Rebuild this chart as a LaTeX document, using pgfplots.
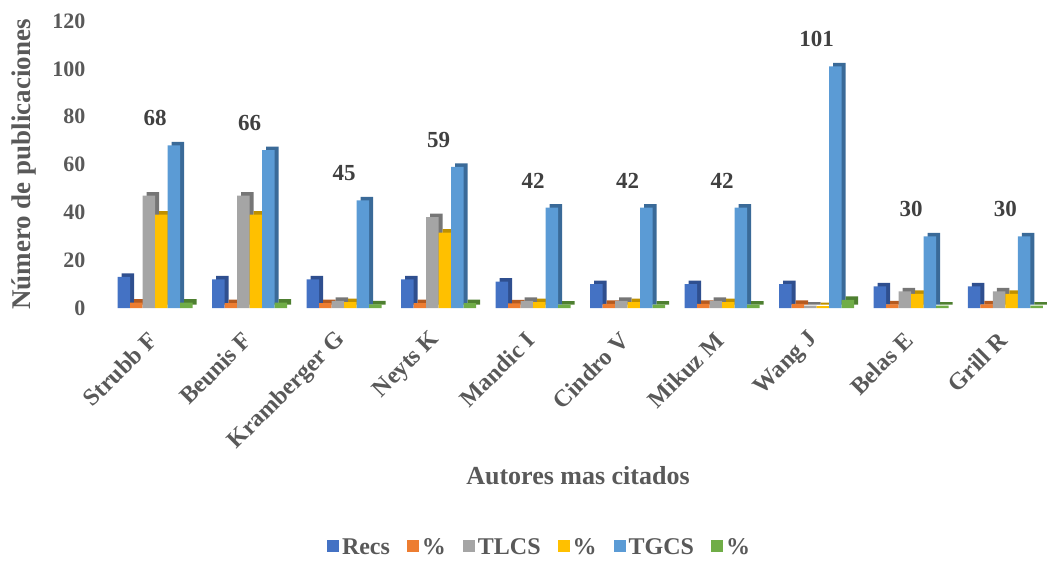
\documentclass[border=0pt]{standalone}
\usepackage{fontspec}
\setmainfont{Liberation Serif}
\usepackage{pgfplots}
\usepackage{pgfplotstable}
\pgfplotsset{compat=1.18}

\definecolor{cRecs}{HTML}{4472C4}
\definecolor{cPRecs}{HTML}{ED7D31}
\definecolor{cTLCS}{HTML}{A5A5A5}
\definecolor{cPTLCS}{HTML}{FFC000}
\definecolor{cTGCS}{HTML}{5B9BD5}
\definecolor{cPTGCS}{HTML}{70AD47}
\definecolor{dRecs}{HTML}{2F4F8F}
\definecolor{dPRecs}{HTML}{B55A1F}
\definecolor{dTLCS}{HTML}{767676}
\definecolor{dPTLCS}{HTML}{BF9000}
\definecolor{dTGCS}{HTML}{3A6A98}
\definecolor{dPTGCS}{HTML}{4E7F30}
\definecolor{txt}{HTML}{595959}
\definecolor{lbl}{HTML}{404040}

% autores: Strubb F, Beunis F, Kramberger G, Neyts K, Mandic I,
% Cindro V, Mikuz M, Wang J, Belas E, Grill R
\pgfplotstableread{
x recs precs tlcs ptlcs tgcs ptgcs
0 13 2.2 47 39.0 68 2.3
1 12 2.0 47 39.0 66 2.2
2 12 2.0 3 2.5 45 1.5
3 12 2.0 38 31.5 59 2.0
4 11 1.9 3 2.5 42 1.4
5 10 1.7 3 2.5 42 1.4
6 10 1.7 3 2.5 42 1.4
7 10 1.7 1 0.8 101 3.4
8 9 1.5 7 5.9 30 1.0
9 9 1.5 7 5.9 30 1.0
}\datatable

\begin{document}
\begin{tikzpicture}
\path[use as bounding box] (0,0) rectangle (1047pt,560pt);
\begin{axis}[
  at={(108pt,252pt)}, anchor=south west,
  scale only axis,
  width=940pt, height=287pt,
  xmin=-0.5, xmax=9.45,
  ymin=0, ymax=120,
  ytick={0,20,...,120},
  xtick={0,...,9},
  xticklabels={Strubb F, Beunis F, Kramberger G, Neyts K, Mandic I, Cindro V, Mikuz M, Wang J, Belas E, Grill R},
  axis line style={draw=none},
  major tick length=0pt,
  clip=false,
  /pgf/number format/assume math mode=true,
  tick label style={text=txt},
  yticklabel style={font=\fontsize{22}{26}\selectfont\bfseries, xshift=-19pt},
  xticklabel style={font=\fontsize{24}{28}\selectfont\bfseries, xshift=0pt, yshift=-26pt, rotate=45, anchor=east},
  xlabel={Autores mas citados},
  ylabel={Número de publicaciones},
  every axis x label/.style={at={(rel axis cs:0.5,0)}, anchor=center, yshift=-168pt,
    font=\fontsize{26}{30}\selectfont\bfseries, text=txt},
  every axis y label/.style={at={(rel axis cs:0,0.5)}, xshift=-84pt, rotate=90, anchor=center,
    font=\fontsize{27}{31}\selectfont\bfseries, text=txt},
  legend columns=6,
  legend style={at={(0.4596,-0.833)}, anchor=center, draw=none, fill=none,
    font=\fontsize{24}{28}\selectfont\bfseries, text=txt,
    nodes={inner xsep=3pt},
    /tikz/every even column/.append style={column sep=14pt}},
  legend image code/.code={\fill[#1,draw=none] (0pt,-5pt) rectangle (12pt,7pt);},
]
% depth of the bars (side and top), drawn behind
\addplot[ybar, bar width=12.5pt, bar shift=-31.25pt, fill=dRecs, draw=none, xshift=4pt, yshift=3.5pt, forget plot] table[x=x,y=recs] {\datatable};
\addplot[ybar, bar width=12.5pt, bar shift=-18.75pt, fill=dPRecs, draw=none, xshift=4pt, yshift=3.5pt, forget plot] table[x=x,y=precs] {\datatable};
\addplot[ybar, bar width=12.5pt, bar shift=-6.25pt, fill=dTLCS, draw=none, xshift=4pt, yshift=3.5pt, forget plot] table[x=x,y=tlcs] {\datatable};
\addplot[ybar, bar width=12.5pt, bar shift=6.25pt, fill=dPTLCS, draw=none, xshift=4pt, yshift=3.5pt, forget plot] table[x=x,y=ptlcs] {\datatable};
\addplot[ybar, bar width=12.5pt, bar shift=18.75pt, fill=dTGCS, draw=none, xshift=4pt, yshift=3.5pt, forget plot] table[x=x,y=tgcs] {\datatable};
\addplot[ybar, bar width=12.5pt, bar shift=31.25pt, fill=dPTGCS, draw=none, xshift=4pt, yshift=3.5pt, forget plot] table[x=x,y=ptgcs] {\datatable};
% front faces
\addplot[ybar, bar width=12.5pt, bar shift=-31.25pt, fill=cRecs, draw=none] table[x=x,y=recs] {\datatable};
\addlegendentry{Recs}
\addplot[ybar, bar width=12.5pt, bar shift=-18.75pt, fill=cPRecs, draw=none] table[x=x,y=precs] {\datatable};
\addlegendentry{\%}
\addplot[ybar, bar width=12.5pt, bar shift=-6.25pt, fill=cTLCS, draw=none] table[x=x,y=tlcs] {\datatable};
\addlegendentry{TLCS}
\addplot[ybar, bar width=12.5pt, bar shift=6.25pt, fill=cPTLCS, draw=none] table[x=x,y=ptlcs] {\datatable};
\addlegendentry{\%}
\addplot[ybar, bar width=12.5pt, bar shift=18.75pt, fill=cTGCS, draw=none,
  nodes near coords,
  nodes near coords style={font=\fontsize{23}{27}\selectfont\bfseries, text=lbl, anchor=south, yshift=16pt}]
  table[x=x,y=tgcs] {\datatable};
\addlegendentry{TGCS}
\addplot[ybar, bar width=12.5pt, bar shift=31.25pt, fill=cPTGCS, draw=none] table[x=x,y=ptgcs] {\datatable};
\addlegendentry{\%}
\end{axis}
\end{tikzpicture}
\end{document}
